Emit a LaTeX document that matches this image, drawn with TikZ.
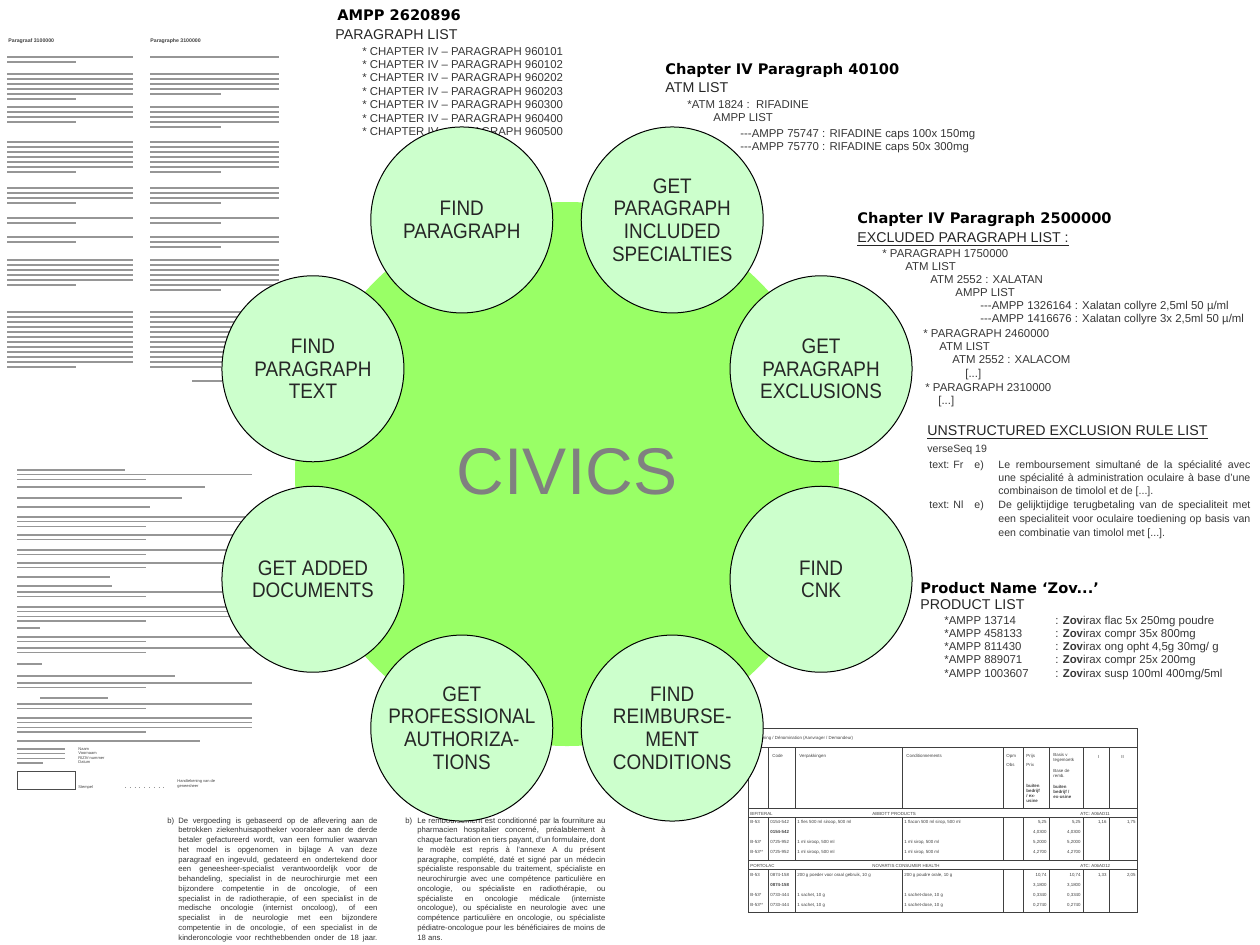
\documentclass[tikz,border=0pt]{standalone}
\usepackage{fontspec}
\setmainfont{Liberation Sans}
\newfontfamily\narrowfont[FakeStretch=0.9]{Liberation Sans}
\newfontfamily\headfont{DejaVu Sans}
\usetikzlibrary{shapes.geometric,calc}

\definecolor{hubgreen}{RGB}{153,255,102}
\definecolor{taskgreen}{RGB}{204,255,204}
\definecolor{hubgray}{RGB}{128,128,128}
\definecolor{ink}{RGB}{55,55,55}
\definecolor{scan}{RGB}{150,150,150}

% x1, x2, first y, number of lines, spacing
\newcommand{\proselines}[5]{%
  \foreach \k in {1,...,#4} {
    \pgfmathsetmacro{\yy}{#3+(\k-1)*#5}
    \ifnum\k=#4\relax\ifnum#4>1\relax
      \draw[scanline] (#1,\yy) -- ({#1+0.55*(#2-#1)},\yy);
    \else
      \draw[scanline] (#1,\yy) -- (#2,\yy);
    \fi\else
      \draw[scanline] (#1,\yy) -- (#2,\yy);
    \fi
  }}
\newcommand{\jline}[2]{\makebox[#1][s]{#2}}

\begin{document}
\begin{tikzpicture}[x=0.5pt,y=-0.5pt,
  task/.style={ellipse,draw=black,line width=0.5pt,fill=taskgreen,minimum width=91pt,minimum height=93pt,inner sep=0pt},
  tasklabel/.style={align=center,inner sep=0pt,text=black!85,font=\narrowfont\fontsize{10.5}{11.3}\selectfont},
  blockhead/.style={anchor=base west,inner sep=0pt,font=\headfont\bfseries\fontsize{7.3}{8}\selectfont},
  listname/.style={anchor=base west,inner sep=0pt,text=black!85,font=\fontsize{7.1}{8}\selectfont},
  entry/.style={anchor=base west,inner sep=0pt,text=ink,font=\fontsize{5.7}{6.5}\selectfont},
  rulenote/.style={anchor=base west,inner sep=0pt,text=ink,font=\fontsize{5.3}{6.5}\selectfont},
  prose/.style={anchor=base west,inner sep=0pt,text=black!80,font=\fontsize{3.85}{4.8}\selectfont},
  scanline/.style={line width=0.7pt,scan},
  cell/.style={anchor=base west,inner sep=0pt,text=black!75,font=\fontsize{2.2}{2.6}\selectfont},
  cellnum/.style={cell,anchor=base east},
  tablerule/.style={line width=0.45pt,black!75}]

\fill[white] (0,0) rectangle (1260,944);
\useasboundingbox (0,0) rectangle (1260,944);

% scanned paragraph, two columns
\node[cell,font=\bfseries\fontsize{2.6}{3}\selectfont] (nlHead) at (8,42) {Paragraaf 3100000};
\node[cell,font=\bfseries\fontsize{2.6}{3}\selectfont] (frHead) at (150,42) {Paragraphe 3100000};
\foreach \yy/\n in {57/2,74/6,107/4,142/7,188/4,218/2,237/2,260/6,312/12}
  \proselines{7}{133}{\yy}{\n}{5};
\foreach \yy/\n in {57/1,74/5,107/5,142/7,188/4,218/2,237/3,260/7,312/12}
  \proselines{150}{279}{\yy}{\n}{5};
\draw[scanline] (192,381) -- (222,381);

% scanned form
\draw[scanline,line width=0.9pt] (17,470) -- (125,470);
\proselines{17}{252}{474.5}{2}{4.7}
\draw[scanline,line width=0.9pt] (17,487) -- (205,487);
\draw[scanline] (17,498) -- (182,498);
\draw[scanline,line width=0.9pt] (17,507) -- (150,507);
\proselines{17}{252}{517}{3}{4.7}
\proselines{17}{252}{535}{2}{4.7}
\proselines{17}{252}{550}{2}{4.7}
\proselines{17}{252}{563}{2}{4.7}
\draw[scanline] (17,577) -- (110,577);
\draw[scanline] (17,586) -- (112,586);
\proselines{17}{252}{592}{2}{4.7}
\proselines{17}{252}{607}{4}{4.7}
\draw[scanline] (17,628) -- (40,628);
\proselines{17}{252}{637}{2}{4.7}
\proselines{17}{252}{648}{2}{4.7}
\draw[scanline] (17,664) -- (42,664);
\draw[scanline] (17,676) -- (175,676);
\proselines{17}{252}{683}{2}{4.7}
\draw[scanline] (40,698) -- (108,698);
\proselines{17}{252}{704}{2}{4.7}
\proselines{17}{252}{718}{4}{4.7}
\draw[scanline,line width=0.9pt] (17,741) -- (200,741);
\proselines{17}{65}{749}{4}{4.7}
\foreach \lbl [count=\i] in {Naam,Voornaam,RIZIV-nummer,Datum}
  \node[cell,font=\fontsize{2}{2.4}\selectfont] (formField\i) at (78,{750+(\i-1)*4.5}) {\lbl};
\draw[black!70,line width=0.4pt] (17,771) rectangle (75,789);
\node[cell,font=\fontsize{2}{2.4}\selectfont] (stamp) at (78,788) {Stempel};
\draw[scan,dotted] (125,787) -- (165,787);
\node[cell,font=\fontsize{2}{2.4}\selectfont] (signA) at (177,782) {Handtekening van de};
\node[cell,font=\fontsize{2}{2.4}\selectfont] (signB) at (177,787) {geneesheer};

% text blocks
\node[blockhead] (amppHead) at (337,20) {AMPP 2620896};
\node[listname] (amppList) at (335,39) {PARAGRAPH LIST};
\foreach \pp [count=\i] in {960101,960102,960202,960203,960300,960400,960500}
  \node[entry] (amppPar\i) at (362,{55+(\i-1)*13.4}) {* CHAPTER IV -- PARAGRAPH \pp};

\node[blockhead] (chHead) at (665,74) {Chapter IV Paragraph 40100};
\node[listname] (atmList) at (665,92) {ATM LIST};
\node[entry] (atm1824) at (687,108) {*ATM 1824 :\ \ RIFADINE};
\node[entry] (rifAmpp) at (713,121) {AMPP LIST};
\node[entry] (rifOne) at (740,137) {-{}-{}-AMPP 75747 : RIFADINE caps 100x 150mg};
\node[entry] (rifTwo) at (740,150) {-{}-{}-AMPP 75770 : RIFADINE caps 50x 300mg};

\node[blockhead] (exclHead) at (857,223) {Chapter IV Paragraph 2500000};
\node[listname] (exclList) at (857,242) {\underline{EXCLUDED PARAGRAPH LIST :}};
\foreach \xx/\yy/\lbl [count=\i] in {882/257/{* PARAGRAPH 1750000}, 905/270/{ATM LIST},
    930/283/{ATM 2552 : XALATAN}, 955/296/{AMPP LIST},
    980/309.5/{-{}-{}-AMPP 1326164 : Xalatan collyre 2,5ml 50 µ/ml},
    980/322.5/{-{}-{}-AMPP 1416676 : Xalatan collyre 3x 2,5ml 50 µ/ml},
    923/337/{* PARAGRAPH 2460000}, 939/350/{ATM LIST}, 952/363/{ATM 2552 : XALACOM},
    965/377/{[...]}, 925/391/{* PARAGRAPH 2310000}, 938/404/{[...]}}
  \node[entry] (excl\i) at (\xx,\yy) {\lbl};

\node[listname] (ruleHead) at (927,435) {\underline{UNSTRUCTURED EXCLUSION RULE LIST}};
\node[rulenote] (verse) at (927,452) {verseSeq 19};
\node[rulenote] (langFr) at (929,468) {text: Fr};
\node[rulenote] (itemFr) at (974,468) {e)};
\node[rulenote] (frOne) at (998,468) {\jline{126pt}{Le remboursement simultané de la spécialité avec}};
\node[rulenote] (frTwo) at (998,481) {\jline{126pt}{une spécialité à administration oculaire à base d'une}};
\node[rulenote] (frThree) at (998,494) {combinaison de timolol et de [...].};
\node[rulenote] (langNl) at (929,508) {text: Nl};
\node[rulenote] (itemNl) at (974,508) {e)};
\node[rulenote] (nlOne) at (998,508) {\jline{126pt}{De gelijktijdige terugbetaling van de specialiteit met}};
\node[rulenote] (nlTwo) at (998,522) {\jline{126pt}{een specialiteit voor oculaire toediening op basis van}};
\node[rulenote] (nlThree) at (998,536) {een combinatie van timolol met [...].};

\node[blockhead] (prodHead) at (920,593) {Product Name ‘Zov...’};
\node[listname] (prodList) at (920,609) {PRODUCT LIST};
\foreach \code/\lbl [count=\i] in {13714/{flac 5x 250mg poudre}, 458133/{compr 35x 800mg},
    811430/{ong opht 4,5g 30mg/ g}, 889071/{compr 25x 200mg}, 1003607/{susp 100ml 400mg/5ml}} {
  \node[entry] (prodCode\i) at (944,{624+(\i-1)*13.3}) {*AMPP \code};
  \node[entry] (prodName\i) at (1055,{624+(\i-1)*13.3}) {: \textbf{Zov}irax \lbl};
}

% bottom paragraphs
\node[prose] (nlB) at (167,823) {b)};
\foreach \lbl [count=\i] in {{De vergoeding is gebaseerd op de aflevering aan de},
    {betrokken ziekenhuisapotheker vooraleer aan de derde},
    {betaler gefactureerd wordt, van een formulier waarvan},
    {het model is opgenomen in bijlage A van deze},
    {paragraaf en ingevuld, gedateerd en ondertekend door},
    {een geneesheer-specialist verantwoordelijk voor de},
    {behandeling, specialist in de neurochirurgie met een},
    {bijzondere competentie in de oncologie, of een},
    {specialist in de radiotherapie, of een specialist in de},
    {medische oncologie (internist oncoloog), of een},
    {specialist in de neurologie met een bijzondere},
    {competentie in de oncologie, of een specialist in de},
    {kinderoncologie voor rechthebbenden onder de 18 jaar.}}
  \node[prose] (nlLine\i) at (178,{823+(\i-1)*9.75}) {\jline{99.5pt}{\lbl}};
\node[prose] (frB) at (405,823) {b)};
\foreach \lbl [count=\i] in {{Le remboursement est conditionné par la fourniture au},
    {pharmacien hospitalier concerné, préalablement à},
    {chaque facturation en tiers payant, d'un formulaire, dont},
    {le modèle est repris à l'annexe A du présent},
    {paragraphe, complété, daté et signé par un médecin},
    {spécialiste responsable du traitement, spécialiste en},
    {neurochirurgie avec une compétence particulière en},
    {oncologie, ou spécialiste en radiothérapie, ou},
    {spécialiste en oncologie médicale (interniste},
    {oncologue), ou spécialiste en neurologie avec une},
    {compétence particulière en oncologie, ou spécialiste},
    {pédiatre-oncologue pour les bénéficiaires de moins de}}
  \node[prose] (frLine\i) at (417,{823+(\i-1)*9.75}) {\jline{94pt}{\lbl}};
\node[prose] (frLast) at (417,{823+12*9.75}) {18 ans.};

% price table
\draw[tablerule] (748,728) rectangle (1137,912);
\foreach \yy in {747,808,817,860,869}
  \draw[tablerule] (748,\yy) -- (1137,\yy);
\foreach \xx in {768,795,902,1003,1023,1049,1083,1109} {
  \draw[tablerule] (\xx,747) -- (\xx,808);
  \draw[tablerule] (\xx,817) -- (\xx,860);
  \draw[tablerule] (\xx,869) -- (\xx,912);
}
\node[cell] (tabTitle) at (751,739) {Benaming / Dénomination (Aanvrager / Demandeur)};
\foreach \xx/\yy/\lbl [count=\i] in {772/757/Code, 799/757/Verpakkingen, 906/757/Conditionnements,
    1006/757/Opm, 1006/766/Obs, 1026/757/Prijs, 1026/766/Prix, 1053/756/{Basis v}, 1053/761/tegemoetk,
    1053/772/{Base de}, 1053/777/remb., 1097/758/I, 1121/758/II}
  \node[cell] (colHead\i) at (\xx,\yy) {\lbl};
\foreach \xx/\yy/\lbl [count=\i] in {1026/787/buiten, 1026/792/bedrijf, 1026/797/{/ ex-}, 1026/802/usine,
    1053/788/buiten, 1053/793/{bedrijf /}, 1053/798/ex-usine}
  \node[cell,font=\bfseries\fontsize{2.2}{2.6}\selectfont] (colNote\i) at (\xx,\yy) {\lbl};
\foreach \yy/\brand/\firm/\atc [count=\i] in {815/BIFITERAL/{ABBOTT PRODUCTS}/{ATC: A06AD11},
    867/PORTOLAC/{NOVARTIS CONSUMER HEALTH}/{ATC: A06AD12}} {
  \node[cell] (brand\i) at (750,\yy) {\brand};
  \node[cell] (firm\i) at (872,\yy) {\firm};
  \node[cell] (atc\i) at (1080,\yy) {\atc};
}
\foreach \yy/\cat/\cnk/\nl/\fr/\pa/\pb/\pc/\pd [count=\i] in {
    823/B-53/0154-542/{1 fles 500 ml siroop, 500 ml}/{1 flacon 500 ml sirop, 500 ml}/{5,25}/{5,25}/{1,16}/{1,75},
    833/{}/{\textbf{0154-542}}/{}/{}/{4,0300}/{4,0300}/{}/{},
    843/B-53*/0725-952/{1 ml siroop, 500 ml}/{1 ml sirop, 500 ml}/{5,2000}/{5,2000}/{}/{},
    853/B-53**/0725-952/{1 ml siroop, 500 ml}/{1 ml sirop, 500 ml}/{4,2700}/{4,2700}/{}/{},
    876/B-53/0874-158/{200 g poeder voor oraal gebruik, 10 g}/{200 g poudre orale, 10 g}/{10,74}/{10,74}/{1,33}/{2,05},
    886/{}/{\textbf{0874-158}}/{}/{}/{3,1800}/{3,1800}/{}/{},
    896/B-53*/0733-444/{1 sachet, 10 g}/{1 sachet-dose, 10 g}/{0,3340}/{0,3340}/{}/{},
    906/B-53**/0733-444/{1 sachet, 10 g}/{1 sachet-dose, 10 g}/{0,2740}/{0,2740}/{}/{}} {
  \node[cell] (cat\i) at (750,\yy) {\cat};
  \node[cell] (cnk\i) at (770,\yy) {\cnk};
  \node[cell] (packNl\i) at (797,\yy) {\nl};
  \node[cell] (packFr\i) at (904,\yy) {\fr};
  \node[cellnum] (price\i) at (1047,\yy) {\pa};
  \node[cellnum] (base\i) at (1081,\yy) {\pb};
  \node[cellnum] (levelI\i) at (1107,\yy) {\pc};
  \node[cellnum] (levelII\i) at (1136,\yy) {\pd};
}

% hub and services
\coordinate (hub) at (567,474);
\fill[hubgreen] (hub) circle[radius=136pt];
\node[anchor=base,inner sep=0pt,text=hubgray,font=\fontsize{33}{36}\selectfont] (civics) at ($(hub)+(0,20)$) {CIVICS};
\foreach \ang/\nm/\lbl in {-112.5/findPar/{FIND\\PARAGRAPH},
    -67.5/getSpec/{GET\\PARAGRAPH\\INCLUDED\\SPECIALTIES},
    -22.5/getExcl/{GET\\PARAGRAPH\\EXCLUSIONS},
    22.5/findCnk/{FIND\\CNK},
    67.5/findReimb/{FIND\\REIMBURSE-\\MENT\\CONDITIONS},
    112.5/getProf/{GET\\PROFESSIONAL\\AUTHORIZA-\\TIONS},
    157.5/getDocs/{GET ADDED\\DOCUMENTS},
    -157.5/findText/{FIND\\PARAGRAPH\\TEXT}} {
  \node[task] (\nm) at ($(hub)+(\ang:275)$) {};
  \node[tasklabel] (\nm-label) at (\nm) {\lbl};
}
\end{tikzpicture}
\end{document}
